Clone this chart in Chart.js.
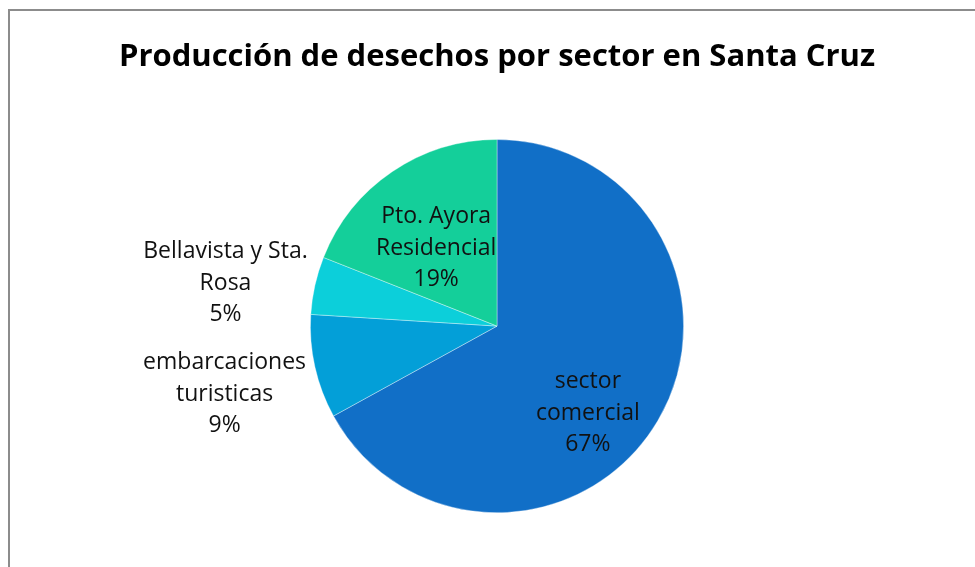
<!DOCTYPE html>
<html>
<head>
<meta charset="utf-8">
<script src="https://cdn.jsdelivr.net/npm/chart.js@4"></script>
<style>
  html, body { margin: 0; padding: 0; background: #fff; overflow: hidden; }
  #wrap { position: relative; width: 975px; height: 567px; }
  #frame { position: absolute; left: 8px; top: 9px; width: 1000px; height: 600px; border: 2px solid #8c8c8c; box-sizing: border-box; }
  #chart { position: absolute; left: 0; top: 0; }
</style>
</head>
<body>
<div id="wrap">
  <div id="frame"></div>
  <canvas id="chart" width="975" height="567"></canvas>
</div>
<script>
const categories = ['sector comercial', 'embarcaciones turisticas', 'Bellavista y Sta. Rosa', 'Pto. Ayora Residencial'];
const values = [67, 9, 5, 19];
const labelLines = [
  ['sector', 'comercial', '67%'],
  ['embarcaciones', 'turisticas', '9%'],
  ['Bellavista y Sta.', 'Rosa', '5%'],
  ['Pto. Ayora', 'Residencial', '19%']
];
const colors = ['#116fc7', '#039fd8', '#0ccfda', '#14cf9a'];

// label anchor, relative to pie centre, in units of radius
const labelAnchor = [[0.487, 0.466], [-1.46, 0.364], [-1.455, -0.23], [-0.326, -0.417]];

const labelPlugin = {
  id: 'pieLabels',
  afterDatasetsDraw(chart) {
    const ctx = chart.ctx;
    const arcs = chart.getDatasetMeta(0).data;
    ctx.save();
    ctx.font = '23px "Open Sans", sans-serif';
    ctx.fillStyle = '#111';
    ctx.textAlign = 'center';
    ctx.textBaseline = 'middle';
    arcs.forEach((arc, i) => {
      const r = arc.outerRadius;
      const cx = arc.x + labelAnchor[i][0] * r;
      const cy = arc.y + labelAnchor[i][1] * r;
      const lines = labelLines[i];
      const lh = 31.5;
      lines.forEach((t, k) => {
        ctx.fillText(t, cx, cy + (k - (lines.length - 1) / 2) * lh);
      });
    });
    ctx.restore();
  }
};

new Chart(document.getElementById('chart'), {
  type: 'pie',
  data: {
    labels: categories,
    datasets: [{
      data: values,
      backgroundColor: colors,
      borderColor: 'rgba(255,255,255,0.6)',
      borderWidth: 0.6
    }]
  },
  options: {
    responsive: false,
    animation: false,
    layout: { padding: { left: 19, right: 0, top: 0, bottom: 54 } },
    plugins: {
      legend: { display: false },
      tooltip: { enabled: false },
      title: {
        display: true,
        text: 'Producción de desechos por sector en Santa Cruz',
        color: '#000',
        font: { family: '"Open Sans", sans-serif', size: 31, weight: 'bold', lineHeight: 1.2 },
        padding: { top: 39, bottom: 63 }
      }
    }
  },
  plugins: [labelPlugin]
});
</script>
</body>
</html>
